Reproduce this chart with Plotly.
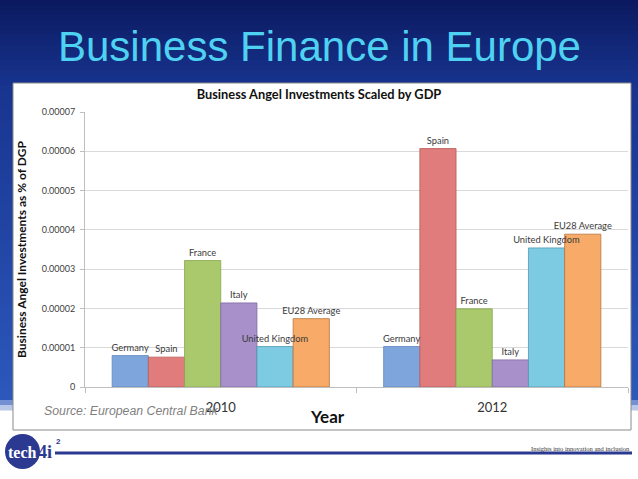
import plotly.graph_objects as go

# ---------------- data ----------------
years = ["2010", "2012"]
countries = ["Germany", "Spain", "France", "Italy", "United Kingdom", "EU28 Average"]
germany = [0.0000080, 0.0000103]
spain = [0.0000076, 0.0000607]
france = [0.0000322, 0.0000199]
italy = [0.0000214, 0.0000069]
united_kingdom = [0.0000103, 0.0000354]
eu28_average = [0.0000174, 0.0000389]
series = [germany, spain, france, italy, united_kingdom, eu28_average]

y_tick_vals = [0, 0.00001, 0.00002, 0.00003, 0.00004, 0.00005, 0.00006, 0.00007]
y_tick_text = ["0", "0.00001", "0.00002", "0.00003", "0.00004", "0.00005", "0.00006", "0.00007"]

# ---------------- styles ----------------
bar_colors = ["#7ea6dc", "#e07d7c", "#a9c96c", "#a891cb", "#7ccbe3", "#f8aa68"]
bar_lines = ["#5f86bd", "#b65a59", "#87a64f", "#7f68a3", "#4f9bb3", "#b8733a"]

W, H = 638, 479
L, R, T, B = 85, 628, 112, 387


def px(x):
    return (x - L) / (R - L)


def py(y):
    return (B - y) / (B - T)


def lerp(c1, c2, f):
    return tuple(round(a + (b - a) * f) for a, b in zip(c1, c2))


fig = go.Figure()
n = len(countries)
group_width = 0.8
bw = group_width / n

# coloured bars
for i in range(n):
    fig.add_trace(go.Bar(
        x=years, y=series[i], name=countries[i],
        width=bw, offset=-group_width / 2 + i * bw,
        marker=dict(color=bar_colors[i], line=dict(color=bar_lines[i], width=0.8)),
    ))
# labels drawn on top of every bar (transparent copies carrying the text)
for i in range(n):
    fig.add_trace(go.Bar(
        x=years, y=series[i], name=countries[i], showlegend=False, hoverinfo="skip",
        width=bw, offset=-group_width / 2 + i * bw,
        marker=dict(color="rgba(0,0,0,0)", line=dict(width=0)),
        text=[countries[i]] * len(series[i]), textposition="outside",
        constraintext="none", cliponaxis=False,
        textfont=dict(family="Lato", size=9.3, color="#3a3a3a"),
    ))

# background gradient bands (decoration)
shapes = []
stops = [(0, (11, 26, 96)), (85, (24, 52, 143)), (395, (44, 88, 188)), (410, (255, 255, 255))]
step = 5
y = 0
while y < 410:
    for (ya, ca), (yb, cb) in zip(stops[:-1], stops[1:]):
        if ya <= y < yb:
            c = lerp(ca, cb, (y - ya) / (yb - ya))
            break
    shapes.append(dict(type="rect", xref="paper", yref="paper", layer="below",
                       x0=px(0), x1=px(W), y0=py(y + step + 0.5), y1=py(y),
                       line=dict(width=0), fillcolor="rgb(%d,%d,%d)" % c))
    y += step

# white chart box
shapes.append(dict(type="rect", xref="paper", yref="paper", layer="below",
                   x0=px(13), x1=px(631), y0=py(430), y1=py(83),
                   line=dict(color="#8a8a8a", width=1), fillcolor="white"))
# footer logo circle and line
shapes.append(dict(type="circle", xref="paper", yref="paper", layer="above",
                   x0=px(5), x1=px(40), y0=py(469), y1=py(434),
                   line=dict(width=0), fillcolor="#2b3990"))
shapes.append(dict(type="line", xref="paper", yref="paper", layer="above",
                   x0=px(55), x1=px(632), y0=py(453), y1=py(453),
                   line=dict(color="#2b3990", width=3)))

annotations = [
    dict(text="Business Finance in Europe", xref="paper", yref="paper",
         x=px(319), y=py(46), xanchor="center", yanchor="middle", showarrow=False,
         font=dict(family="Liberation Sans", size=42, color="#4fd2f2")),
    dict(text="Year", xref="paper", yref="paper",
         x=px(327), y=py(416), xanchor="center", yanchor="middle", showarrow=False,
         font=dict(family="Lato", size=17, color="#111111", weight="bold")),
    dict(text="<i>Source: European Central Bank</i>", xref="paper", yref="paper",
         x=px(42), y=py(411), xanchor="left", yanchor="middle", showarrow=False,
         font=dict(family="Liberation Sans", size=12.3, color="#7f7f7f")),
    dict(text="<b>tech</b>", xref="paper", yref="paper",
         x=px(22.5), y=py(452), xanchor="center", yanchor="middle", showarrow=False,
         font=dict(family="Liberation Sans Narrow", size=16, color="white")),
    dict(text="<b>4i</b>", xref="paper", yref="paper",
         x=px(36), y=py(452), xanchor="left", yanchor="middle", showarrow=False,
         font=dict(family="Liberation Sans Narrow", size=18, color="#2b3990")),
    dict(text="<b>2</b>", xref="paper", yref="paper",
         x=px(54), y=py(441), xanchor="left", yanchor="middle", showarrow=False,
         font=dict(family="Liberation Sans", size=8, color="#2b3990")),
    dict(text="Insights into innovation and inclusion", xref="paper", yref="paper",
         x=px(632), y=py(448), xanchor="right", yanchor="middle", showarrow=False,
         font=dict(family="Liberation Sans Narrow", size=6.5, color="#333333")),
]

fig.update_layout(
    width=W, height=H,
    margin=dict(l=L, r=W - R, t=T, b=H - B, pad=0),
    paper_bgcolor="white", plot_bgcolor="rgba(0,0,0,0)",
    showlegend=False,
    barmode="overlay",
    title=dict(text="<b>Business Angel Investments Scaled by GDP</b>",
               xref="container", x=0.5, xanchor="center",
               yref="container", y=1 - 95 / H, yanchor="middle",
               font=dict(family="Lato", size=12.8, color="#111111")),
    shapes=shapes, annotations=annotations,
    xaxis=dict(
        type="category", categoryorder="array", categoryarray=years,
        showgrid=False, showline=True, linecolor="#bfbfbf", linewidth=1,
        ticks="outside", tickson="boundaries", ticklen=5, tickcolor="#bfbfbf",
        ticklabelstandoff=8,
        tickfont=dict(family="Lato", size=13, color="#333333"),
    ),
    yaxis=dict(
        range=[0, 0.00007], tickvals=y_tick_vals, ticktext=y_tick_text,
        showgrid=True, gridcolor="#d9d9d9", gridwidth=1,
        showline=True, linecolor="#bfbfbf", linewidth=1, zeroline=False,
        ticks="outside", ticklen=4, tickcolor="#bfbfbf", ticklabelstandoff=3,
        tickfont=dict(family="Lato", size=9, color="#404040"),
        title=dict(text="<b>Business Angel Investments as % of DGP</b>", standoff=12,
                   font=dict(family="Lato", size=12, color="#111111")),
    ),
)

fig.write_html("out.html", config={"displayModeBar": False},
               post_script="document.body.style.margin='0';document.body.style.overflow='hidden';")
